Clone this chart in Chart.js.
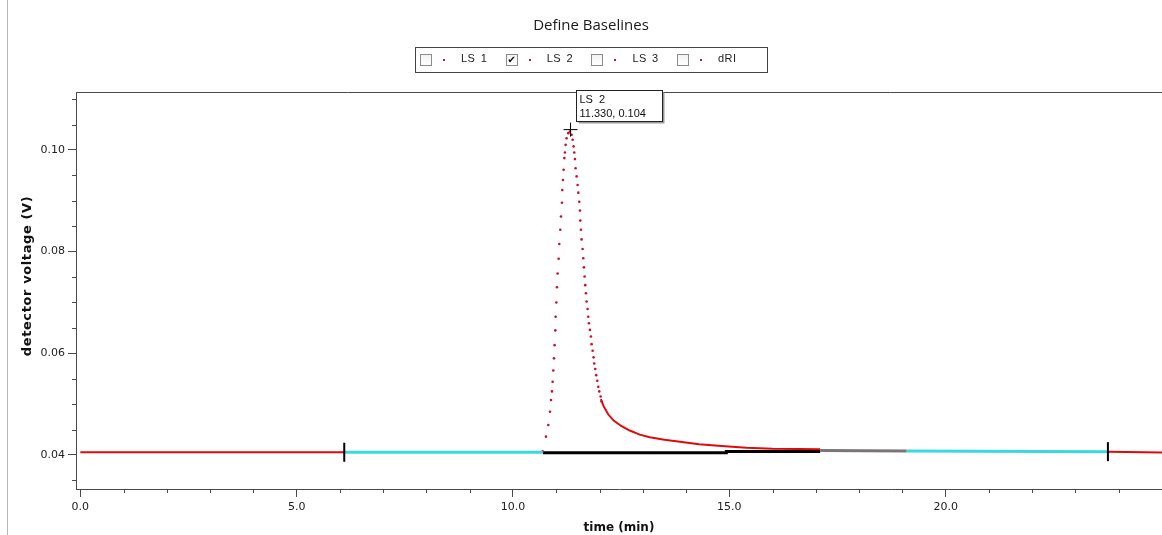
<!DOCTYPE html>
<html>
<head>
<meta charset="utf-8">
<script src="https://cdn.jsdelivr.net/npm/chart.js@4.4.1/dist/chart.umd.min.js"></script>
<style>
html,body{margin:0;padding:0;background:#fff;}
#wrap{position:relative;width:1162px;height:535px;overflow:hidden;background:#fff;}
#c{position:absolute;left:0;top:0;}
#edge{position:absolute;left:7px;top:0;width:1px;height:535px;background:#b8b8b8;}
#title{position:absolute;left:491px;width:200px;top:14px;text-align:center;font:15px "Open Sans","Noto Sans",sans-serif;color:#1a1a1a;}
#legend{position:absolute;left:415px;top:47px;display:flex;padding-left:4px;box-sizing:border-box;width:353px;height:26px;border:1px solid #444;align-items:center;}
.item{width:85.7px;height:26px;position:relative;flex:none;}
.box{position:absolute;left:0;top:7px;width:10px;height:10px;border:1px solid #8c8c8c;background:linear-gradient(#f2f2f2,#ffffff);font:bold 10px "DejaVu Sans",sans-serif;line-height:10px;text-align:center;color:#111;}
.dot{position:absolute;left:23px;top:12px;width:2px;height:2px;background:#d0102a;}
.lab{position:absolute;left:41px;top:5px;font:11px "Liberation Sans",Arial,sans-serif;color:#222;letter-spacing:0.4px;word-spacing:2px;white-space:pre;}
</style>
</head>
<body>
<div id="wrap">
  <canvas id="c" width="1162" height="535"></canvas>
  <div id="edge"></div>
  <div id="title">Define Baselines</div>
  <div id="legend"></div>
</div>
<script>
// ---------- data ----------
const legendNames   = ['LS 1', 'LS 2', 'LS 3', 'dRI'];
const legendChecked = [false, true, false, false];

const xTicks      = [0, 5, 10, 15, 20];
const xMinorTicks = [1, 2, 3, 4, 6, 7, 8, 9, 11, 12, 13, 14, 16, 17, 18, 19, 21, 22, 23, 24];
const yTicks      = [0.04, 0.06, 0.08, 0.10];
const yMinorTicks = [0.035, 0.045, 0.05, 0.055, 0.065, 0.07, 0.075, 0.085, 0.09, 0.095, 0.105, 0.11];

// LS 2 peak (sampled points, drawn as dots)
const peakTime = [10.685, 10.762, 10.816, 10.855, 10.878, 10.901, 10.916, 10.931, 10.947, 10.962,
                  10.978, 10.985, 11.001, 11.016, 11.032, 11.055, 11.070, 11.093, 11.109, 11.132,
                  11.139, 11.155, 11.170, 11.186, 11.201, 11.216, 11.239, 11.278, 11.316,
                  11.355, 11.378, 11.401, 11.416, 11.432, 11.447, 11.470, 11.493, 11.509, 11.532,
                  11.547, 11.555, 11.570, 11.586, 11.609, 11.624, 11.640, 11.655, 11.670, 11.686,
                  11.701, 11.724, 11.740, 11.755, 11.778, 11.801, 11.817, 11.840, 11.863, 11.878,
                  11.901, 11.924, 11.947, 11.971, 11.994, 12.025, 12.048];
const peakVolt = [0.0407, 0.0436, 0.0459, 0.0485, 0.0508, 0.0525, 0.0544, 0.0566, 0.0590, 0.0616,
                  0.0645, 0.0672, 0.0700, 0.0730, 0.0757, 0.0786, 0.0815, 0.0843, 0.0869, 0.0896,
                  0.0921, 0.0941, 0.0961, 0.0984, 0.0995, 0.1010, 0.1023, 0.1033, 0.1036,
                  0.1030, 0.1020, 0.1007, 0.0995, 0.0982, 0.0964, 0.0948, 0.0931, 0.0916, 0.0898,
                  0.0881, 0.0861, 0.0843, 0.0824, 0.0805, 0.0787, 0.0769, 0.0751, 0.0734, 0.0718,
                  0.0702, 0.0687, 0.0672, 0.0659, 0.0646, 0.0633, 0.0618, 0.0605, 0.0592, 0.0580,
                  0.0569, 0.0557, 0.0546, 0.0534, 0.0525, 0.0515, 0.0505];

// LS 2 tail (dense samples, drawn as a line)
const tailTime = [12.03, 12.10, 12.20, 12.32, 12.50, 12.70, 12.93, 13.16, 13.50, 13.86, 14.30, 14.90, 15.40, 16.00, 16.60, 17.10];
const tailVolt = [0.0510, 0.0495, 0.0480, 0.0468, 0.0457, 0.0448, 0.0440, 0.0435, 0.0430, 0.0426, 0.0421, 0.0417, 0.0414, 0.0412, 0.04115, 0.0411];

// LS 2 flat signal before / after the baseline region
const leadTime  = [0.0, 6.10];   const leadVolt  = [0.04053, 0.04053];
const trailTime = [23.75, 25.0]; const trailVolt = [0.04065, 0.04048];

// baseline segments
const cyanLeftTime  = [6.10, 10.69];  const cyanLeftVolt  = [0.04053, 0.04053];
const cyanRightTime = [19.10, 23.75]; const cyanRightVolt = [0.0408, 0.04065];
const blackTime = [10.69, 14.93, 14.93, 17.10]; const blackVolt = [0.04045, 0.04045, 0.04069, 0.04069];
const grayTime  = [17.10, 19.10];     const grayVolt  = [0.04085, 0.0408];

// baseline end markers
const markerTime = [6.10, 23.75]; const markerVolt = [0.04053, 0.04065];

// hovered point read-out
const readoutSeries = 'LS 2';
const readoutTime = 11.330;
const readoutVolt = 0.104;

// ---------- legend ----------
const lg = document.getElementById('legend');
legendNames.forEach((n, i) => {
  const it = document.createElement('div'); it.className = 'item';
  const b = document.createElement('div'); b.className = 'box'; b.textContent = legendChecked[i] ? '\u2714' : '';
  const d = document.createElement('div'); d.className = 'dot';
  const l = document.createElement('div'); l.className = 'lab'; l.textContent = n;
  it.appendChild(b); it.appendChild(d); it.appendChild(l); lg.appendChild(it);
});

// ---------- chart ----------
const zip = (t, v) => t.map((x, i) => ({x: x, y: v[i]}));
const lineSet = (label, t, v, color, width, order) => ({
  label, data: zip(t, v), showLine: true, borderColor: color, borderWidth: width,
  pointRadius: 0, pointHoverRadius: 0, fill: false, order, borderCapStyle: 'butt'
});

const AX = '#4a4a4a';
const framePlugin = {
  id: 'frame',
  afterDraw(chart) {
    const {ctx, chartArea: a, scales: {x, y}} = chart;
    ctx.save();
    ctx.strokeStyle = AX; ctx.lineWidth = 1;
    ctx.beginPath(); ctx.moveTo(a.left, a.top + 0.5); ctx.lineTo(a.right, a.top + 0.5); ctx.stroke();
    ctx.beginPath();
    xMinorTicks.forEach(v => { const p = Math.round(x.getPixelForValue(v)) + 0.5; ctx.moveTo(p, a.bottom); ctx.lineTo(p, a.bottom + 4); });
    yMinorTicks.forEach(v => { const p = Math.round(y.getPixelForValue(v)) + 0.5; ctx.moveTo(a.left, p); ctx.lineTo(a.left - 4, p); });
    ctx.stroke();
    // y axis title
    ctx.save();
    ctx.translate(28, 276); ctx.rotate(-Math.PI / 2);
    ctx.font = 'bold 13px "DejaVu Sans", sans-serif'; ctx.fillStyle = '#111';
    if ('letterSpacing' in ctx) ctx.letterSpacing = '0.6px';
    ctx.textAlign = 'center'; ctx.textBaseline = 'middle';
    ctx.fillText('detector voltage (V)', 0, 0);
    ctx.restore();
    // read-out box
    const px = x.getPixelForValue(readoutTime), py = y.getPixelForValue(readoutVolt);
    const bx = Math.round(px + 5) + 0.5, by = Math.round(py - 40) + 0.5, bw = 86, bh = 31;
    ctx.fillStyle = '#9a9a9a'; ctx.fillRect(bx + 2, by + 2, bw, bh);
    ctx.fillStyle = '#ffffff'; ctx.fillRect(bx, by, bw, bh);
    ctx.strokeStyle = '#222'; ctx.strokeRect(bx, by, bw, bh);
    ctx.fillStyle = '#111'; ctx.font = '11px "Liberation Sans", Arial, sans-serif';
    ctx.textAlign = 'left'; ctx.textBaseline = 'alphabetic';
    ctx.fillText(readoutSeries.replace(' ', '  '), bx + 3, by + 12.5);
    ctx.fillText(readoutTime.toFixed(3) + ', ' + readoutVolt.toFixed(3), bx + 3, by + 26.5);
    ctx.restore();
  }
};

new Chart(document.getElementById('c'), {
  type: 'scatter',
  data: {
    datasets: [
      {label: 'markers', data: zip(markerTime, markerVolt), pointStyle: 'line', rotation: 90,
       pointRadius: 9.5, pointBorderWidth: 2, pointBorderColor: '#000', showLine: false, order: 0},
      {label: 'peak', data: [{x: readoutTime, y: readoutVolt}], pointStyle: 'cross',
       pointRadius: 7, pointBorderWidth: 1, pointBorderColor: '#000', showLine: false, order: 1},
      lineSet('cyanLeft', cyanLeftTime, cyanLeftVolt, '#3ad8e2', 3, 3),
      lineSet('cyanRight', cyanRightTime, cyanRightVolt, '#3ad8e2', 3, 3),
      lineSet('gray', grayTime, grayVolt, '#7a7676', 3, 4),
      lineSet('black', blackTime, blackVolt, '#000000', 3, 6),
      {label: 'LS 2 peak', data: zip(peakTime, peakVolt), showLine: false, pointRadius: 1.3,
       pointBorderWidth: 0, pointBackgroundColor: '#c8102e', pointStyle: 'circle', order: 5},
      lineSet('LS 2 tail', tailTime, tailVolt, '#e00a0a', 2, 5),
      lineSet('LS 2 lead', leadTime, leadVolt, '#e00a0a', 2, 7),
      lineSet('LS 2 trail', trailTime, trailVolt, '#e00a0a', 2, 7)
    ]
  },
  options: {
    responsive: false, animation: false, devicePixelRatio: 1,
    layout: {autoPadding: false, padding: {top: 92, left: 0, right: 0, bottom: 0}},
    plugins: {legend: {display: false}, tooltip: {enabled: false}, title: {display: false}},
    events: [],
    scales: {
      x: {
        type: 'linear', min: -0.1, max: 25.0,
        afterFit(s) { s.height = 46; s.paddingLeft = 0; s.paddingRight = 0; },
        afterBuildTicks(s) { s.ticks = xTicks.map(v => ({value: v})); },
        ticks: {callback: v => Number(v).toFixed(1), font: {family: 'DejaVu Sans', size: 11},
                color: '#222', padding: 4, maxRotation: 0, autoSkip: false},
        grid: {drawOnChartArea: false, tickLength: 8, color: AX, tickColor: AX},
        border: {color: AX, width: 1},
        title: {display: true, text: 'time (min)', font: {family: 'DejaVu Sans', size: 12, weight: 'bold'},
                color: '#111', padding: {top: 2, bottom: 0}}
      },
      y: {
        type: 'linear', min: 0.0333, max: 0.1114,
        afterFit(s) { s.width = 76; s.paddingTop = 0; s.paddingBottom = 0; },
        afterBuildTicks(s) { s.ticks = yTicks.map(v => ({value: v})); },
        ticks: {callback: v => Number(v).toFixed(2), font: {family: 'DejaVu Sans', size: 11},
                color: '#222', padding: 3, autoSkip: false},
        grid: {drawOnChartArea: false, tickLength: 8, color: AX, tickColor: AX},
        border: {color: AX, width: 1}
      }
    }
  },
  plugins: [framePlugin]
});
</script>
</body>
</html>
